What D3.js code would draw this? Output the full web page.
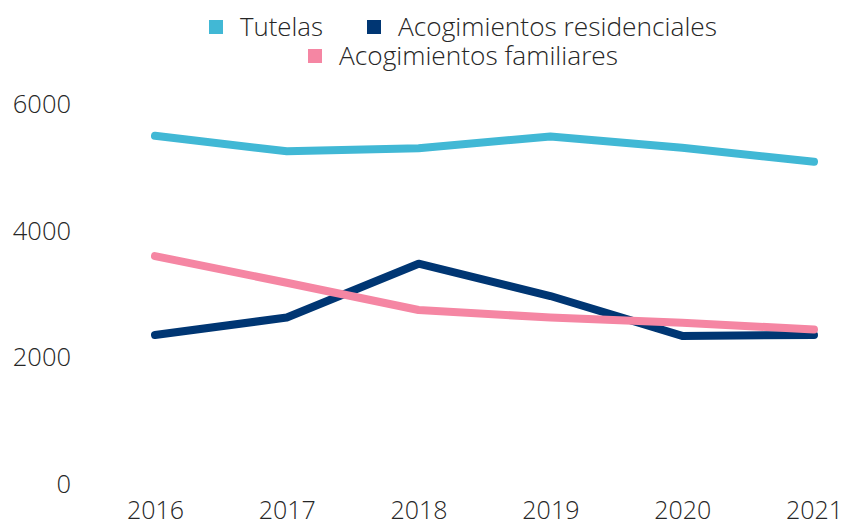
<!DOCTYPE html>
<html>
<head>
<meta charset="utf-8">
<script src="https://cdn.jsdelivr.net/npm/d3@7"></script>
<style>
  body { margin: 0; background: #fff; }
  text { font-family: "Open Sans", sans-serif; font-weight: 300; fill: #262626; }
</style>
</head>
<body>
<div id="app"></div>
<script>
const years = [2016, 2017, 2018, 2019, 2020, 2021]
const yTicks = [0, 2000, 4000, 6000]
const tutelas = [5490, 5245, 5295, 5480, 5300, 5080]
const residenciales = [2345, 2620, 3470, 2960, 2330, 2345]
const familiares = [3590, 3170, 2740, 2620, 2540, 2430]

const seriesNames = ['Tutelas', 'Acogimientos residenciales', 'Acogimientos familiares']
const seriesColors = ['#41b8d5', '#003673', '#f586a3']
const seriesValues = [tutelas, residenciales, familiares]

const w = 858, h = 521

const svg = d3.select('#app').append('svg')
  .attr('width', w)
  .attr('height', h)

const xScale = d3.scalePoint()
  .domain(years)
  .range([155, 814])

const yScale = d3.scaleLinear()
  .domain([0, 6000])
  .range([483.5, 103.5])

// y axis: labels only
const yAxis = d3.axisLeft(yScale).tickValues(yTicks).tickFormat(d3.format('d')).tickSize(0).tickPadding(0)
const gy = svg.append('g').attr('transform', 'translate(71,0)').call(yAxis)
gy.select('.domain').remove()
gy.selectAll('text')
  .attr('dy', '0.35em')
  .style('font-size', '25.5px')
  .style('font-family', '"Open Sans", sans-serif')

const xAxis = d3.axisBottom(xScale).tickFormat(d3.format('d')).tickSize(0).tickPadding(0)
const gx = svg.append('g').attr('transform', 'translate(0,501)').call(xAxis)
gx.select('.domain').remove()
gx.selectAll('text')
  .attr('dy', '0.71em')
  .style('font-size', '25px')
  .style('font-family', '"Open Sans", sans-serif')

const line = d3.line()
  .x((d, i) => xScale(years[i]))
  .y(d => yScale(d))

seriesValues.forEach(function(vals, k) {
  svg.append('path')
    .datum(vals)
    .attr('d', line)
    .attr('fill', 'none')
    .attr('stroke', seriesColors[k])
    .attr('stroke-width', 8)
    .attr('stroke-linejoin', 'round')
    .attr('stroke-linecap', 'round')
})

// legend
const legendItems = [
  {x: 209, y: 27, len: 83},
  {x: 367, y: 27, len: 319},
  {x: 308, y: 56, len: 279}
]
legendItems.forEach(function(it, k) {
  svg.append('rect')
    .attr('x', it.x)
    .attr('y', it.y - 7)
    .attr('width', 14)
    .attr('height', 14)
    .attr('fill', seriesColors[k])
  svg.append('text')
    .attr('x', it.x + 31)
    .attr('y', it.y + 9)
    .attr('textLength', it.len)
    .attr('lengthAdjust', 'spacingAndGlyphs')
    .style('font-size', '25px')
    .text(seriesNames[k])
})
</script>
</body>
</html>
